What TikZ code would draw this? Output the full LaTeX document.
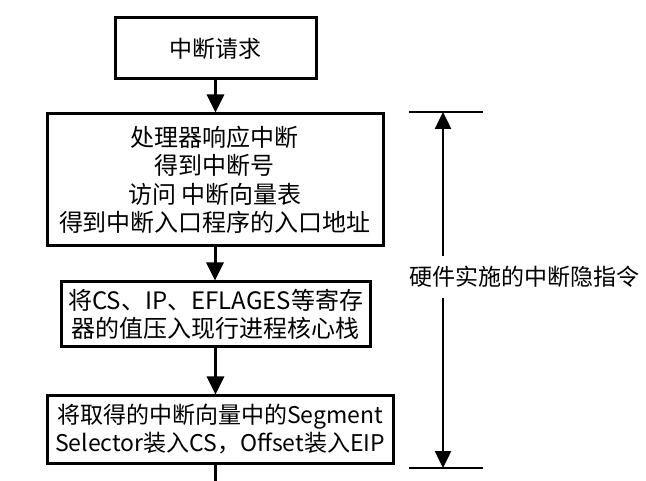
\documentclass[tikz,border=0pt]{standalone}
\usepackage{fontspec}
\setmainfont{Noto Sans CJK SC}
\usetikzlibrary{arrows.meta,calc}
\begin{document}
\begin{tikzpicture}[x=1pt,y=-1pt,
  box/.style={draw,line width=3pt,inner sep=0pt,align=center,
    font=\fontsize{24}{28.5}\selectfont},
  arr/.style={line width=3pt,-{Triangle[length=18pt,width=17pt]}},
  dim/.style={line width=2.5pt,{Triangle[length=17pt,width=16pt]}-{Triangle[length=17pt,width=16pt]}},
  bar/.style={line width=2.5pt}]
\useasboundingbox (0,0) rectangle (646,481);
\node[box,minimum width=201pt,minimum height=61pt,font=\fontsize{23}{27}\selectfont] (b1) at (215.5,48.5) {中断请求};
\node[box,minimum width=336pt,minimum height=132pt] (b2) at (215,180) {处理器响应中断\\得到中断号\\访问 中断向量表\\得到中断入口程序的入口地址};
\node[box,minimum width=309pt,minimum height=65pt] (b3) at (215.5,314.5) {将CS、IP、EFLAGES等寄存\\器的值压入现行进程核心栈};
\node[box,minimum width=346pt,minimum height=67pt,font=\fontsize{23}{28}\selectfont] (b4) at (220,429.5) {将取得的中断向量中的Segment\\Selector装入CS，Offset装入EIP};
\coordinate (bend) at (215,481);
\draw[arr] (b1.south) -- (b1.south |- b2.north);
\draw[arr] (b2.south) -- (b2.south |- b3.north);
\draw[arr] (b3.south) -- (b3.south |- b4.north);
\draw[line width=3pt] (bend |- b4.south) -- (bend);
% dimension
\coordinate (tl) at (409,112);
\coordinate (tr) at (483,112);
\coordinate (bl) at (409,468);
\coordinate (br) at (483,468);
\coordinate (dt) at (443,112);
\coordinate (db) at (443,468);
\draw[bar] (tl) -- (tr);
\draw[bar] (bl) -- (br);
\draw[dim] (dt) -- (db);
\node[fill=white,inner xsep=1pt,inner ysep=10pt,font=\fontsize{23}{27}\selectfont] (lbl) at (524.5,277) {硬件实施的中断隐指令};
\end{tikzpicture}
\end{document}
